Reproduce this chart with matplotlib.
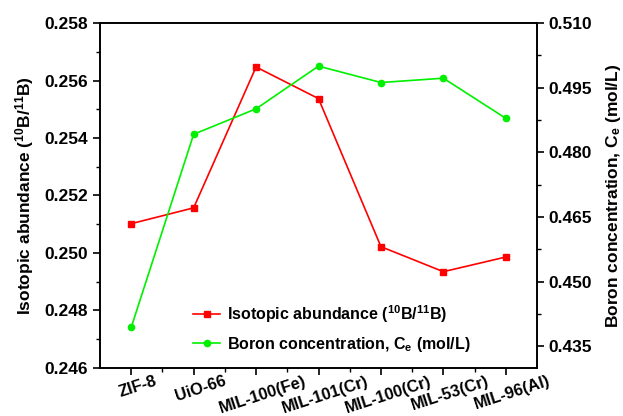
import matplotlib
matplotlib.use("Agg")
import matplotlib.pyplot as plt
import numpy as np
from matplotlib.ticker import MultipleLocator, FormatStrFormatter, FixedLocator

plt.rcParams['font.family'] = 'Liberation Sans'
plt.rcParams['font.weight'] = 'bold'
plt.rcParams['mathtext.fontset'] = 'custom'
plt.rcParams['mathtext.rm'] = 'Liberation Sans:bold'
plt.rcParams['mathtext.it'] = 'Liberation Sans:bold'
plt.rcParams['mathtext.bf'] = 'Liberation Sans:bold'
plt.rcParams['mathtext.default'] = 'rm'

materials = ["ZIF-8", "UiO-66", "MIL-100(Fe)", "MIL-101(Cr)",
             "MIL-100(Cr)", "MIL-53(Cr)", "MIL-96(Al)"]
isotopic = [0.25102, 0.25157, 0.25647, 0.25537, 0.25022, 0.24935, 0.24986]
boron_conc = [0.4394, 0.4842, 0.4901, 0.5000, 0.4962, 0.4972, 0.4879]

fig = plt.figure(figsize=(6.23, 4.16), dpi=100)
ax = fig.add_axes([0.1605, 0.1154, 0.7015, 0.8293])
ax2 = ax.twinx()

x = np.arange(len(materials))
l1, = ax.plot(x, isotopic, color='#ff0000', lw=1.2, marker='s', ms=4.5,
              label='Isotopic abundance ($^{10}$B/$^{11}$B)')
l2, = ax2.plot(x, boron_conc, color='#00f000', lw=1.2, marker='o', ms=4.5,
               label='Boron concentration, C$_e$ (mol/L)')

ax.set_xlim(-0.5, 6.5)
ax.set_ylim(0.246, 0.258)
ax2.set_ylim(0.430, 0.510)

# category labels drawn as text so they can sit slightly right of the tick
ax.set_xticks(x)
ax.set_xticklabels([])
for i, name in enumerate(materials):
    ax.text(i + 0.11, -0.016, name, transform=ax.get_xaxis_transform(),
            rotation=18, ha='center', va='top', fontsize=11.8, fontweight='bold')
ax.xaxis.set_minor_locator(FixedLocator(x[:-1] + 0.5))

ax.yaxis.set_major_locator(MultipleLocator(0.002))
ax.yaxis.set_minor_locator(MultipleLocator(0.001))
ax.yaxis.set_major_formatter(FormatStrFormatter('%.3f'))
ax2.yaxis.set_major_locator(FixedLocator(np.arange(0.435, 0.5101, 0.015)))
ax2.yaxis.set_minor_locator(FixedLocator(np.arange(0.4425, 0.51, 0.015)))
ax2.yaxis.set_major_formatter(FormatStrFormatter('%.3f'))

for a in (ax, ax2):
    a.tick_params(which='major', direction='out', length=5, width=1.2, labelsize=12.5)
    a.tick_params(which='minor', direction='out', length=3, width=1.0)
    for s in a.spines.values():
        s.set_linewidth(1.2)

ax.set_ylabel('Isotopic abundance ($^{10}$B/$^{11}$B)', fontsize=12.5, fontweight='bold', labelpad=6)
ax2.set_ylabel('Boron concentration, C$_e$ (mol/L)', fontsize=12.5, fontweight='bold', labelpad=8)

ax.legend(handles=[l1, l2], loc='lower left', bbox_to_anchor=(0.18, 0.0),
          frameon=False, fontsize=11.5, handlelength=1.7, handletextpad=0.4,
          labelspacing=0.6)

fig.savefig('out.png', dpi=100)
